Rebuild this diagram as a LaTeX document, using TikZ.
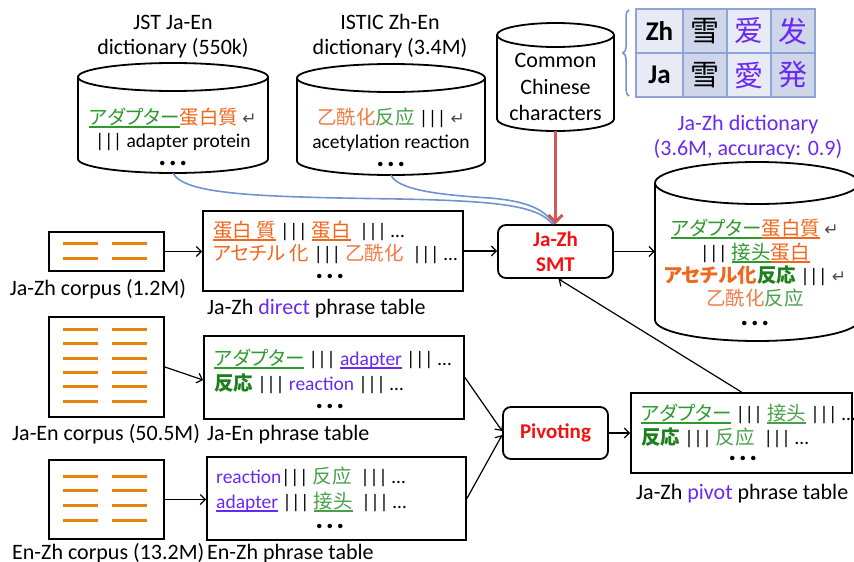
\documentclass[tikz,border=0pt]{standalone}
\usepackage{fontspec}
\setmainfont{Carlito}
\newfontfamily\jpf{Noto Sans CJK JP}[RawFeature=+palt]
\newfontfamily\zhf{Noto Sans CJK SC}
\newfontfamily\symf{DejaVu Sans}
\usetikzlibrary{arrows.meta,decorations.pathreplacing}

\definecolor{jgreen}{HTML}{2E9A2E}
\definecolor{dgreen}{HTML}{1F7F1F}
\definecolor{zgreen}{HTML}{4AA04A}
\definecolor{orng}{HTML}{F2661B}
\definecolor{lorng}{HTML}{F27A45}
\definecolor{purp}{HTML}{6A28F2}
\definecolor{redt}{HTML}{F21010}
\definecolor{barorange}{HTML}{E8830F}
\definecolor{lineblue}{HTML}{6F93CF}
\definecolor{redarrow}{HTML}{CF5B57}
\definecolor{cellA}{HTML}{E8EBF5}
\definecolor{cellB}{HTML}{CFD6EA}
\definecolor{tabline}{HTML}{8AA5D6}

% text helpers
\newcommand\ja[1]{{\jpf #1}}
\newcommand\zh[1]{{\zhf #1}}
\newcommand\ret{{\symf\fontsize{17}{17}\selectfont\textcolor{black!70}{↵}}}
\newcommand\undl[2]{\textcolor{#1}{\setbox0\hbox{#2}\rlap{\rule[-3.5pt]{\wd0}{1.1pt}}\box0}}
\newcommand\more{{\fontsize{30}{30}\selectfont\bfseries .\hspace{2.5pt}.\hspace{2.5pt}.}}

% database drum: name, cx, y of top ellipse, y of bottom ellipse, x radius, y radius
\newcommand\drum[6]{%
  \fill[white] (#2-#5,#3) -- (#2-#5,#4) arc[start angle=180,end angle=0,x radius=#5,y radius=#6] -- (#2+#5,#3) -- cycle;
  \draw[cyl] (#2-#5,#3) -- (#2-#5,#4) arc[start angle=180,end angle=0,x radius=#5,y radius=#6] -- (#2+#5,#3);
  \draw[cyl,fill=white] (#2,#3) ellipse[x radius=#5,y radius=#6];
  \node[inner sep=0,minimum width={2*#5},minimum height={#4-#3+2*#6}] (#1) at (#2,{(#3+#4)/2}) {};
}

\tikzset{
  cyl/.style={line width=1.8pt},
  box/.style={draw,line width=1.8pt,inner sep=0},
  engine/.style={draw,line width=1.8pt,rounded corners=8pt,inner sep=0,
    align=center,text=redt,font=\fontsize{21}{25}\selectfont\bfseries},
  lbl/.style={anchor=base west,inner sep=0,font=\fontsize{22}{26}\selectfont},
  ctxt/.style={anchor=base,inner sep=0,font=\fontsize{22}{26}\selectfont},
  row/.style={anchor=base west,inner sep=0,font=\fontsize{19.5}{23}\selectfont},
  crow/.style={anchor=base,inner sep=0,font=\fontsize{19.5}{23}\selectfont},
  dots/.style={anchor=base,inner sep=0,text height=5pt,text depth=0pt},
  bar/.style={barorange,line width=3pt},
  arr/.style={-{Straight Barb[length=5pt,width=10pt]},line width=1.2pt},
  cell/.style={draw=tabline,line width=1.5pt,inner sep=0,minimum height=44pt},
}

\begin{document}
\begin{tikzpicture}[x=1pt,y=-1pt]
\useasboundingbox (0,0) rectangle (854,562);

% ---- dictionaries ----
\node[ctxt] (t1a) at (173,29) {JST Ja-En};
\node[ctxt] (t1b) at (173,54) {dictionary (550k)};
\drum{jst}{173}{77}{159}{95}{14}
\node[crow] (jst1) at (173,124) {\ja{\undl{jgreen}{アダプター}\textcolor{orng}{蛋白質}} \ret};
\node[crow] (jst2) at (173,147) {||| adapter protein};
\node[dots] (jst3) at (173,165) {\more};

\node[ctxt] (t2a) at (390,29) {ISTIC Zh-En};
\node[ctxt] (t2b) at (390,54) {dictionary (3.4M)};
\drum{istic}{391}{78}{161}{94}{14}
\node[crow] (ist1) at (391,124) {\zh{\textcolor{lorng}{乙酰化}\textcolor{zgreen}{反应}} ||| \ret};
\node[crow] (ist2) at (391,148) {acetylation reaction};
\node[dots] (ist3) at (391,166) {\more};

\drum{ccc}{555.5}{35}{119}{58.5}{12}
\node[ctxt] (c1) at (555.5,67) {Common};
\node[ctxt] (c2) at (555.5,94) {Chinese};
\node[ctxt] (c3) at (555.5,120) {characters};

% ---- character table ----
\draw[lineblue,line width=1.5pt,decorate,decoration={brace,amplitude=6pt}] (629,96) -- (629,10);
\node[cell,fill=cellA,minimum width=47pt] (h1) at (659.5,31) {\fontsize{27}{30}\selectfont\bfseries Zh};
\node[cell,fill=cellB,minimum width=44pt] (z1) at (705,31) {\fontsize{29}{30}\selectfont\zh{雪}};
\node[cell,fill=cellA,minimum width=44pt] (z2) at (749,31) {\fontsize{29}{30}\selectfont\zh{\textcolor{purp}{爱}}};
\node[cell,fill=cellB,minimum width=44pt] (z3) at (793,31) {\fontsize{29}{30}\selectfont\zh{\textcolor{purp}{发}}};
\node[cell,fill=cellA,minimum width=47pt] (h2) at (659.5,75) {\fontsize{27}{30}\selectfont\bfseries Ja};
\node[cell,fill=cellB,minimum width=44pt] (j1) at (705,75) {\fontsize{29}{30}\selectfont\ja{雪}};
\node[cell,fill=cellA,minimum width=44pt] (j2) at (749,75) {\fontsize{29}{30}\selectfont\ja{\textcolor{purp}{愛}}};
\node[cell,fill=cellB,minimum width=44pt] (j3) at (793,75) {\fontsize{29}{30}\selectfont\ja{\textcolor{purp}{発}}};

% ---- resulting dictionary ----
\node[ctxt,text=purp] (d0a) at (748,130) {Ja-Zh dictionary};
\node[ctxt,text=purp] (d0b) at (748,155) {(3.6M, accuracy: 0.9)};
\drum{dict}{757}{183}{320}{102}{21}
\node[crow] (d1) at (755,235) {\ja{\undl{jgreen}{アダプター}\undl{orng}{蛋白質}} \ret};
\node[crow] (d2) at (755,259) {||| \zh{\undl{jgreen}{接头}\undl{orng}{蛋白}}};
\node[crow] (d3) at (755,282) {\ja{\bfseries\textcolor{orng}{アセチル化}\textcolor{dgreen}{反応}} ||| \ret};
\node[crow] (d4) at (755,305) {\zh{\textcolor{lorng}{乙酰化}\textcolor{zgreen}{反应}}};
\node[dots] (d5) at (755,325) {\more};

% ---- corpora ----
\node[box,minimum width=115pt,minimum height=39pt] (jzc) at (106.5,251.5) {};
\foreach \y in {243,258} {\draw[bar] (63,\y) -- (98,\y); \draw[bar] (112,\y) -- (147,\y);}
\node[ctxt] (jzcl) at (98,295) {Ja-Zh corpus (1.2M)};

\node[box,minimum width=115pt,minimum height=100pt] (jec) at (106.5,367) {};
\foreach \y in {329,343.5,358,372,386.5,401} {\draw[bar] (63,\y) -- (98,\y); \draw[bar] (112,\y) -- (147,\y);}
\node[lbl] (jecl) at (12,440) {Ja-En corpus (50.5M)};

\node[box,minimum width=115pt,minimum height=79pt] (ezc) at (106.5,499.5) {};
\foreach \y in {476,490.5,505,520} {\draw[bar] (63,\y) -- (98,\y); \draw[bar] (112,\y) -- (147,\y);}
\node[lbl] (ezcl) at (12,559) {En-Zh corpus (13.2M)};

% ---- phrase tables ----
\node[box,minimum width=260pt,minimum height=80pt] (direct) at (333,251) {};
\node[row] (dr1) at (213,237) {\undl{orng}{\ja{蛋白 質}} ||| \undl{orng}{\zh{蛋白}}\ \ ||| …};
\node[row] (dr2) at (213,260) {\textcolor{orng}{\ja{アセチル 化}} ||| \textcolor{lorng}{\zh{乙酰化}}\ \ ||| …};
\node[dots] (dr3) at (330,278) {\more};
\node[lbl] (directl) at (207,314) {Ja-Zh \textcolor{purp}{direct} phrase table};

\node[box,minimum width=260pt,minimum height=83pt] (jept) at (334,377.5) {};
\node[row] (je1) at (214,365) {\undl{jgreen}{\ja{アダプター}} ||| \undl{purp}{adapter} ||| …};
\node[row] (je2) at (214,390) {\textcolor{dgreen}{\ja{\bfseries 反応}} ||| \textcolor{purp}{reaction} ||| …};
\node[dots] (je3) at (330,408) {\more};
\node[lbl] (jeptl) at (207,440) {Ja-En phrase table};

\node[box,minimum width=259pt,minimum height=83pt] (ezpt) at (336.5,498.5) {};
\node[row] (ez1) at (216,483) {\textcolor{purp}{reaction}||| \textcolor{zgreen}{\zh{反应}}\ \ ||| …};
\node[row] (ez2) at (216,508) {\undl{purp}{adapter} ||| \undl{zgreen}{\zh{接头}}\ \ ||| …};
\node[dots] (ez3) at (330,528) {\more};
\node[lbl] (ezptl) at (207,559) {En-Zh phrase table};

\node[box,minimum width=221pt,minimum height=80pt] (pivt) at (741.5,433) {};
\node[row] (pv1) at (641,420) {\undl{jgreen}{\ja{アダプター}} ||| \undl{zgreen}{\zh{接头}} ||| …};
\node[row] (pv2) at (641,444) {\textcolor{dgreen}{\ja{\bfseries 反応}} ||| \textcolor{zgreen}{\zh{反应}}\ \ ||| …};
\node[dots] (pv3) at (743,460) {\more};
\node[lbl] (pivtl) at (636,499) {Ja-Zh \textcolor{purp}{pivot} phrase table};

% ---- engines ----
\node[engine,minimum width=115pt,minimum height=53pt] (smt) at (555.5,251.5) {Ja-Zh\\SMT};
\node[engine,minimum width=105pt,minimum height=52pt] (piv) at (555.5,433) {Pivoting};

% ---- connectors ----
\draw[lineblue,line width=1.6pt] (jst.south) .. controls (185,195) and (260,197) .. (400,199)
  .. controls (500,201) and (538,206) .. ([xshift=-3pt]smt.north);
\draw[lineblue,line width=1.6pt] (istic.south) .. controls (398,190) and (440,195) .. (490,198)
  .. controls (525,201) and (543,208) .. ([xshift=-1pt]smt.north);
\draw[redarrow,line width=3pt,-{Straight Barb[length=7pt,width=14pt]}] (ccc.south) -- (smt.north);

\draw[arr] (jzc.east) -- (jzc.east -| direct.west);
\draw[arr] (direct.east) -- (direct.east -| smt.west);
\draw[arr] (smt.east) -- (smt.east -| dict.west);
\draw[arr] (jec.east) -- ([yshift=-2.5pt]jept.west);
\draw[arr] (ezc.east) -- (ezc.east -| ezpt.west);
\draw[arr] (jept.east) -- ([yshift=2pt]piv.west);
\draw[arr] (ezpt.east) -- ([yshift=-2pt]piv.west);
\draw[arr] (piv.east) -- (piv.east -| pivt.west);
\draw[arr] (pivt.north) -- ([xshift=3pt]smt.south);
\end{tikzpicture}
\end{document}
